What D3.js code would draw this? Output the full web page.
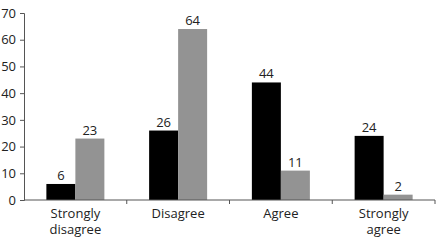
<!DOCTYPE html>
<html>
<head>
<meta charset="utf-8">
<script src="https://cdn.jsdelivr.net/npm/d3@7"></script>
<style>
  body { margin: 0; background: #fff; }
  text { font-family: "Open Sans", sans-serif; }
</style>
</head>
<body>
<svg width="438" height="244"></svg>
<script>
const categories = [['Strongly', 'disagree'], ['Disagree'], ['Agree'], ['Strongly', 'agree']];
const seriesA = [6, 26, 44, 24];
const seriesB = [23, 64, 11, 2];
const yTicks = [0, 10, 20, 30, 40, 50, 60, 70];

const svg = d3.select('svg');
const width = +svg.attr('width');
const height = +svg.attr('height');
const margin = { top: 13, right: 3, bottom: 44, left: 24 };
const innerWidth = width - margin.left - margin.right;
const innerHeight = height - margin.top - margin.bottom;

const keys = categories.map(c => c.join(' '));
const data = keys.map((k, i) => ({ key: k, lines: categories[i], a: seriesA[i], b: seriesB[i] }));

const xScale = d3.scaleBand().domain(keys).range([0, innerWidth]);
const sub = d3.scaleBand().domain(['a', 'b']).range([0, 58]);
const yScale = d3.scaleLinear().domain([0, 70]).range([innerHeight, 0]);

const g = svg.append('g').attr('transform', `translate(${margin.left},${margin.top})`);

// y axis
const yAxis = d3.axisLeft(yScale).tickValues(yTicks).tickSize(4).tickPadding(4);
const yg = g.append('g').call(yAxis);
yg.select('.domain').attr('stroke', '#555');
yg.selectAll('.tick line').attr('stroke', '#555');
yg.selectAll('.tick text').attr('font-size', 13).attr('fill', '#222');

// bars
const groups = g.selectAll('.grp').data(data).enter().append('g')
  .attr('transform', d => `translate(${xScale(d.key) + (xScale.bandwidth() - 58) / 2},0)`);

['a', 'b'].forEach(s => {
  groups.append('rect')
    .attr('x', sub(s))
    .attr('y', d => yScale(d[s]))
    .attr('width', sub.bandwidth())
    .attr('height', d => innerHeight - yScale(d[s]))
    .attr('fill', s === 'a' ? '#000' : '#939393');
  groups.append('text')
    .attr('x', sub(s) + sub.bandwidth() / 2)
    .attr('y', d => yScale(d[s]) - 4)
    .attr('text-anchor', 'middle')
    .attr('font-size', 13)
    .attr('fill', '#222')
    .text(d => d[s]);
});

// x axis
const xg = g.append('g').attr('transform', `translate(0,${innerHeight})`);
xg.append('line').attr('x1', 0).attr('x2', innerWidth).attr('stroke', '#555');
xg.selectAll('.tk').data(keys.map((k, i) => i + 1)).enter().append('line')
  .attr('x1', i => xScale.step() * i).attr('x2', i => xScale.step() * i)
  .attr('y1', 0).attr('y2', 4).attr('stroke', '#555');

const labels = xg.selectAll('.lab').data(data).enter().append('text')
  .attr('text-anchor', 'middle')
  .attr('font-size', 13)
  .attr('fill', '#222')
  .attr('transform', d => `translate(${xScale(d.key) + xScale.bandwidth() / 2},18)`);
labels.selectAll('tspan').data(d => d.lines).enter().append('tspan')
  .attr('x', 0).attr('dy', (d, i) => i === 0 ? 0 : 16).text(d => d);
</script>
</body>
</html>
